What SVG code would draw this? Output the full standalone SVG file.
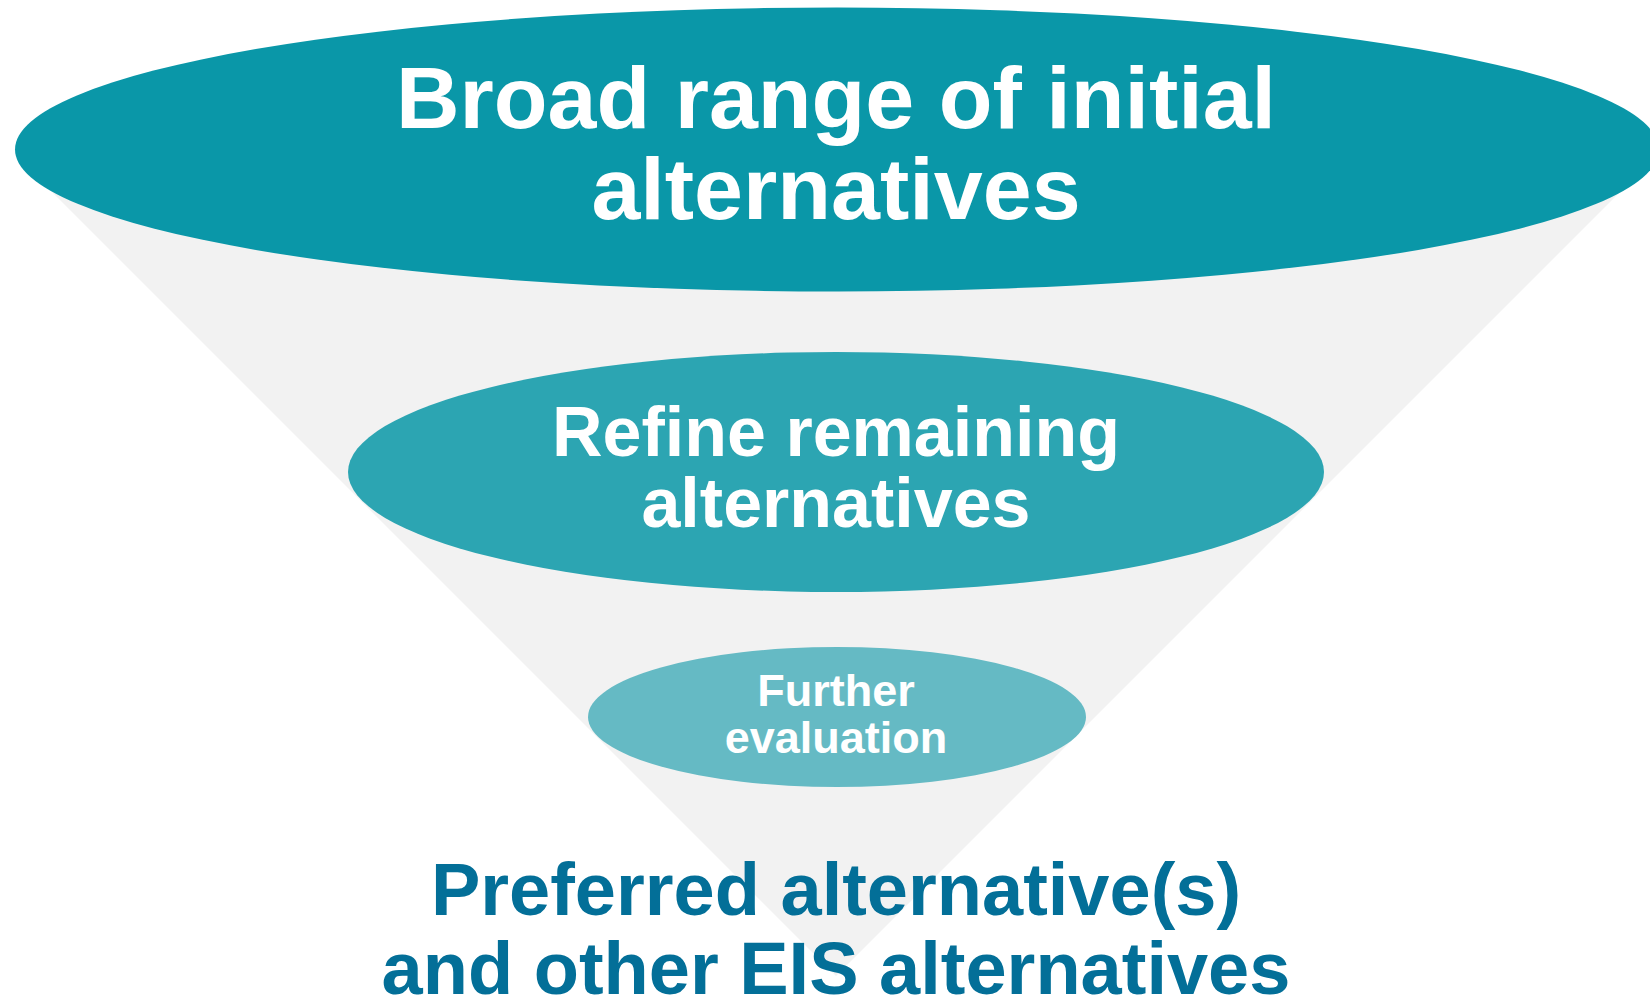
<svg xmlns="http://www.w3.org/2000/svg" width="1650" height="1000" viewBox="0 0 1650 1000">
<style>
.t{font-family:"Liberation Sans",Arial,sans-serif;font-weight:bold;text-anchor:middle;fill:#ffffff}
.b{fill:#036F98}
</style>
<rect width="1650" height="1000" fill="#ffffff"/>
<g id="funnel"><polygon points="40,180 1632,180 836,976" fill="#F2F2F2"/></g>
<g id="connectors"></g>
<g id="node-broad">
<ellipse cx="837" cy="149.5" rx="822" ry="142" fill="#0A97A8"/>
<text class="t" x="836" y="128" font-size="88">Broad range of initial</text>
<text class="t" x="836" y="219" font-size="88">alternatives</text>
</g>
<g id="node-refine">
<ellipse cx="836" cy="472" rx="488" ry="120" fill="#2CA5B2"/>
<text class="t" x="836" y="456" font-size="70">Refine remaining</text>
<text class="t" x="836" y="527" font-size="70">alternatives</text>
</g>
<g id="node-further">
<ellipse cx="837" cy="717" rx="249" ry="70" fill="#65BAC4"/>
<text class="t" x="836" y="706" font-size="45">Further</text>
<text class="t" x="836" y="753" font-size="45">evaluation</text>
</g>
<g id="node-preferred">
<text class="t b" x="836" y="915" font-size="74">Preferred alternative(s)</text>
<text class="t b" x="836" y="994" font-size="74">and other EIS alternatives</text>
</g>
</svg>
